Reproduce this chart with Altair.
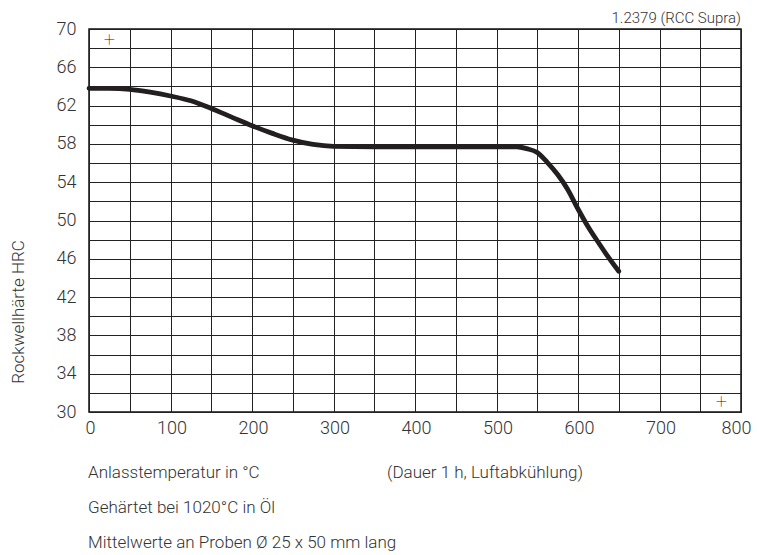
import altair as alt
import pandas as pd

# Curve: tempering temperature (°C) vs hardness (HRC)
temp = [0, 25, 50, 75, 100, 125, 150, 175, 200, 225, 250, 275, 300, 350, 400,
        450, 500, 525, 537, 550, 562, 575, 587, 600, 612, 625, 637, 650]
hrc = [63.8, 63.8, 63.7, 63.4, 63.0, 62.5, 61.7, 60.8, 59.9, 59.1, 58.4, 57.95,
       57.75, 57.7, 57.7, 57.7, 57.7, 57.7, 57.5, 57.1, 56.1, 54.8, 53.3, 51.2,
       49.4, 47.7, 46.2, 44.7]

# Corner registration marks
mark_x = [25, 776]
mark_y = [68.9, 31.0]

x_ticks = list(range(0, 801, 50))
y_ticks = list(range(30, 71, 2))

title_text = "1.2379 (RCC Supra)"
y_title = "Rockwellhärte HRC"
x_title = "Anlasstemperatur in °C"
x_note = "(Dauer 1 h, Luftabkühlung)"
note2 = "Gehärtet bei 1020°C in Öl"
note3 = "Mittelwerte an Proben Ø 25 x 50 mm lang"

FONT = "Roboto"
TXT = "#333333"

df = pd.DataFrame({"temp": temp, "hrc": hrc})
dm = pd.DataFrame({"x": mark_x, "y": mark_y, "t": ["+", "+"]})

xs = alt.Scale(domain=[0, 800], nice=False)
ys = alt.Scale(domain=[30, 70], nice=False)

xaxis = alt.Axis(values=x_ticks, tickCount=100, format="d", title=None, grid=True,
                 gridColor="#222222", gridWidth=1, gridOpacity=1,
                 ticks=False, domain=False, labelOverlap=False,
                 labelExpr="datum.value % 100 == 0 ? datum.label : ''",
                 labelAlign={"condition": {"test": "datum.value >= 800", "value": "right"},
                             "value": "center"},
                 labelOffset={"condition": {"test": "datum.value >= 800", "value": 10},
                              "value": 1},
                 labelFont=FONT, labelFontSize=18, labelFontWeight=300,
                 labelColor=TXT, labelPadding=7, labelFlush=False)
yaxis = alt.Axis(values=y_ticks, tickCount=100, format="d", title=None, grid=True,
                 gridColor="#222222", gridWidth=1, gridOpacity=1,
                 ticks=False, domain=False, labelOverlap=False,
                 labelExpr="(datum.value - 30) % 4 == 0 ? datum.label : ''",
                 labelFont=FONT, labelFontSize=18, labelFontWeight=300,
                 labelColor=TXT, labelPadding=13, labelFlush=False)

line = alt.Chart(df).mark_line(
    interpolate="monotone", color="#231f20", strokeWidth=4.8, strokeCap="round"
).encode(
    x=alt.X("temp:Q", scale=xs, axis=xaxis),
    y=alt.Y("hrc:Q", scale=ys, axis=yaxis),
)

plus = alt.Chart(dm).mark_text(
    font=FONT, fontSize=20, fontWeight=100, color="#111111", baseline="middle"
).encode(
    x=alt.X("x:Q", scale=xs),
    y=alt.Y("y:Q", scale=ys),
    text="t:N",
)


def label(txt, x, y, align="left", size=17, angle=0):
    return alt.Chart(pd.DataFrame({"t": [txt]})).mark_text(
        font=FONT, fontSize=size, fontWeight=300, color=TXT, align=align,
        baseline="middle", angle=angle
    ).encode(text="t:N", x=alt.value(x), y=alt.value(y))


chart = alt.layer(
    line,
    plus,
    label(title_text, 652, -11, align="right", size=15),
    label(y_title, -70, 283, align="center", size=17, angle=270),
    label(x_title, -1, 444),
    label(x_note, 298, 444),
    label(note2, -1, 479),
    label(note3, -1, 514),
).properties(
    width=652,
    height=383,
    padding={"left": 81, "top": 21, "right": 10, "bottom": 140},
    autosize=alt.AutoSizeParams(type="none"),
    background="white",
).configure_view(
    stroke="#111111", strokeWidth=1.5
)

chart.save("out.html", embed_options={"renderer": "svg", "actions": False})
